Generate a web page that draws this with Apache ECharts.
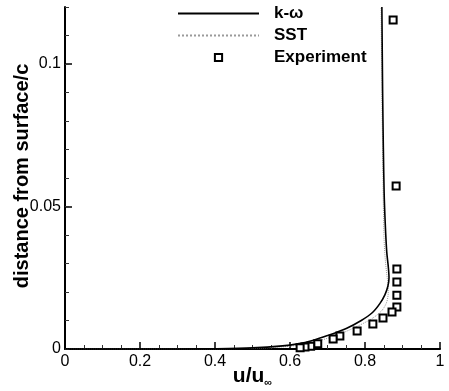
<!DOCTYPE html>
<html>
<head>
<meta charset="utf-8">
<script src="https://cdn.jsdelivr.net/npm/echarts@6/dist/echarts.min.js"></script>
<style>html,body{margin:0;padding:0;background:#fff;}#c{width:449px;height:391px;}</style>
</head>
<body>
<div id="c"></div>
<script>
// ---- data ----
var seriesNames = ['k-ω', 'SST', 'Experiment'];
var kwU = [0, 0.3, 0.4, 0.5, 0.58, 0.62, 0.66, 0.70, 0.75, 0.79, 0.82, 0.84, 0.853, 0.861, 0.864, 0.862, 0.858, 0.854, 0.851, 0.849, 0.847, 0.845];
var kwY = [0, 0, 0.0001, 0.0004, 0.0011, 0.0018, 0.0030, 0.0047, 0.0072, 0.0100, 0.0128, 0.0160, 0.0190, 0.022, 0.025, 0.029, 0.034, 0.044, 0.055, 0.070, 0.090, 0.120];
var sstU = [0, 0.35, 0.45, 0.55, 0.62, 0.68, 0.73, 0.78, 0.82, 0.845, 0.858, 0.862, 0.860, 0.855, 0.851, 0.849, 0.847, 0.845, 0.843];
var sstY = [0, 0, 0.0001, 0.0005, 0.0013, 0.0030, 0.0051, 0.0080, 0.0108, 0.0135, 0.0165, 0.0200, 0.024, 0.030, 0.038, 0.050, 0.070, 0.090, 0.120];
var expU = [0.875, 0.883, 0.885, 0.885, 0.885, 0.885, 0.872, 0.848, 0.821, 0.779, 0.733, 0.715, 0.674, 0.655, 0.640, 0.627];
var expY = [0.1154, 0.0572, 0.0281, 0.0235, 0.0189, 0.0147, 0.0130, 0.0109, 0.0088, 0.0063, 0.0046, 0.0035, 0.0018, 0.0010, 0.0007, 0.0004];
var xTicks = [0, 0.2, 0.4, 0.6, 0.8, 1];
var yTicks = [0, 0.05, 0.1];

function pairs(u, y) { var o = []; for (var i = 0; i < u.length; i++) o.push([u[i], y[i]]); return o; }

var FONT = 'Liberation Sans, Arial, Helvetica, sans-serif';
var chart = echarts.init(document.getElementById('c'), null, {renderer: 'canvas'});
chart.setOption({
  animation: false,
  backgroundColor: '#fff',
  grid: {left: 65, right: 9, top: 7, bottom: 42, containLabel: false, outerBoundsMode: 'none'},
  legend: {
    orient: 'vertical', left: 177, top: 5, padding: 0,
    itemWidth: 81, itemHeight: 9, itemGap: 5,
    textStyle: {fontFamily: FONT, fontSize: 17, fontWeight: 'bold', color: '#000', lineHeight: 14, padding: [0, 0, 0, 10]},
    data: [
      {name: seriesNames[0], itemStyle: {opacity: 0}},
      {name: seriesNames[1], itemStyle: {opacity: 0}},
      {name: seriesNames[2]}
    ]
  },
  xAxis: {
    type: 'value', min: 0, max: 1, interval: 0.2,
    name: '{a|u/u}{b|∞}', nameLocation: 'middle', nameGap: 15, nameMoveOverlap: false,
    nameTextStyle: {rich: {
      a: {fontFamily: FONT, fontSize: 21, fontWeight: 'bold', color: '#000', verticalAlign: 'middle', lineHeight: 24},
      b: {fontFamily: FONT, fontSize: 11, fontWeight: 'bold', color: '#000', verticalAlign: 'bottom', lineHeight: 24}
    }},
    axisLine: {show: true, onZero: false, lineStyle: {color: '#000', width: 2}},
    axisTick: {show: true, inside: true, length: 7, lineStyle: {color: '#000', width: 1.5}, customValues: xTicks},
    minorTick: {show: true, splitNumber: 4, length: 4, lineStyle: {color: '#333', width: 1}},
    axisLabel: {fontFamily: FONT, fontSize: 16, color: '#000', margin: 5, customValues: xTicks,
      formatter: function (v) { return String(+v.toFixed(2)); }},
    splitLine: {show: false}
  },
  yAxis: [{
    type: 'value', min: 0, max: 0.12, interval: 0.01,
    name: 'distance from surface/c', nameLocation: 'middle', nameRotate: 90, nameGap: 33, nameMoveOverlap: false,
    nameTextStyle: {fontFamily: FONT, fontSize: 20, fontWeight: 'bold', color: '#000', padding: [0, 0, 0, 4]},
    axisLine: {show: true, onZero: false, lineStyle: {color: '#000', width: 2}},
    axisTick: {show: true, inside: true, length: 7, lineStyle: {color: '#000', width: 1.5}, customValues: yTicks},
    axisLabel: {fontFamily: FONT, fontSize: 16, color: '#000', margin: 4, customValues: yTicks,
      formatter: function (v) { return String(+v.toFixed(3)); }},
    splitLine: {show: false}
  }, {
    type: 'value', min: 0, max: 0.12, interval: 0.01, position: 'left',
    axisLine: {show: false},
    axisTick: {show: true, inside: true, length: 4, lineStyle: {color: '#333', width: 1}},
    axisLabel: {show: false},
    splitLine: {show: false}
  }],
  series: [{
    name: seriesNames[0], type: 'line', data: pairs(kwU, kwY), symbol: 'none', smooth: 0.3,
    lineStyle: {color: '#000', width: 1.6}, itemStyle: {color: '#000'}, z: 3
  }, {
    name: seriesNames[1], type: 'line', data: pairs(sstU, sstY), symbol: 'none', smooth: 0.3,
    lineStyle: {color: '#9a9a9a', width: 1, type: 'dotted'}, itemStyle: {color: '#9a9a9a'}, z: 2
  }, {
    name: seriesNames[2], type: 'line', data: pairs(expU, expY), symbol: 'emptyRect', symbolSize: 7,
    showSymbol: true, lineStyle: {width: 0, opacity: 0}, itemStyle: {color: '#000'}, z: 4
  }]
});
</script>
</body>
</html>
